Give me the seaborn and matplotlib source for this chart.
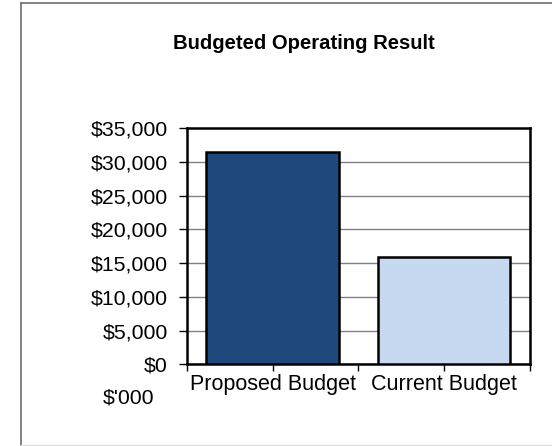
import matplotlib
matplotlib.use("Agg")
import matplotlib.pyplot as plt
from matplotlib.lines import Line2D
from matplotlib.ticker import FuncFormatter, FixedLocator
import seaborn as sns
import pandas as pd

# Chart data
categories = ["Proposed Budget", "Current Budget"]
results = [31550, 15900]
bar_colors = ["#1F497D", "#C6D9F0"]
y_ticks = [0, 5000, 10000, 15000, 20000, 25000, 30000, 35000]

sns.set_theme(style="white")
plt.rcParams["font.family"] = ["Liberation Sans", "DejaVu Sans"]

df = pd.DataFrame({"Budget": categories, "Result": results})

fig = plt.figure(figsize=(5.52, 4.46), dpi=100)
fig.patch.set_facecolor("white")
ax = fig.add_axes([0.3382, 0.1832, 0.6219, 0.5291])

sns.barplot(data=df, x="Budget", y="Result", hue="Budget",
            palette=bar_colors, order=categories, hue_order=categories,
            width=0.77, edgecolor="black", linewidth=1.8, saturation=1,
            legend=False, ax=ax, zorder=3)

ax.set_xlim(-0.5, 1.5)
ax.set_ylim(0, 35000)
ax.set_yticks(y_ticks)
ax.yaxis.set_major_formatter(FuncFormatter(lambda v, p: f"${v:,.0f}"))
ax.set_xlabel("")
ax.set_ylabel("")

# Horizontal gridlines
ax.yaxis.grid(True, color="#808080", linewidth=1.0, zorder=0)
ax.xaxis.grid(False)
ax.set_axisbelow(True)

# Frame
for side in ["left", "right", "top", "bottom"]:
    ax.spines[side].set_visible(True)
    ax.spines[side].set_color("black")
    ax.spines[side].set_linewidth(1.8)

# Tick marks at category centres and category boundaries
ax.xaxis.set_minor_locator(FixedLocator([-0.5, 0.5, 1.5]))
ax.tick_params(axis="x", which="both", direction="out", length=5, width=1,
               color="black", bottom=True, labelsize=15.5, pad=2)
ax.tick_params(axis="y", which="major", direction="out", length=6, width=1,
               color="black", left=True, labelsize=15.3, pad=7.5)
for lbl in ax.get_xticklabels() + ax.get_yticklabels():
    lbl.set_color("black")

# Title and unit label
fig.text(0.551, 0.903, "Budgeted Operating Result", ha="center", va="center",
         fontsize=14.6, fontweight="bold", color="black")
fig.text(0.232, 0.108, "$'000", ha="center", va="center",
         fontsize=15.3, color="black")

# Outer chart-area border
fig.add_artist(Line2D([20.5 / 552, 20.5 / 552], [1 - 2.5 / 446, 1 - 444.5 / 446],
                      transform=fig.transFigure, color="#6E6E6E", linewidth=1.2))
fig.add_artist(Line2D([20.5 / 552, 1.0], [1 - 2.5 / 446, 1 - 2.5 / 446],
                      transform=fig.transFigure, color="#6E6E6E", linewidth=1.2))
fig.add_artist(Line2D([20.5 / 552, 1.0], [1 - 444.5 / 446, 1 - 444.5 / 446],
                      transform=fig.transFigure, color="#E0E0E0", linewidth=1.0))

fig.savefig("out.png", dpi=100, facecolor="white")
